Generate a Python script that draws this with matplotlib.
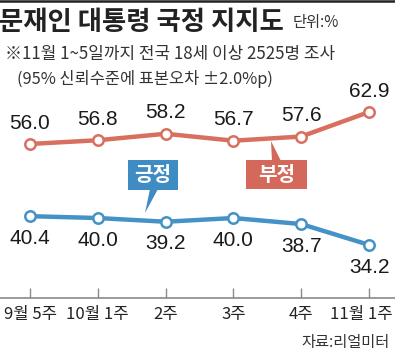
import matplotlib
matplotlib.use("Agg")
import matplotlib.pyplot as plt
import matplotlib.transforms as mtransforms
from matplotlib.patches import Rectangle, Polygon
from matplotlib.lines import Line2D

weeks = ["9월 5주", "10월 1주", "2주", "3주", "4주", "11월 1주"]
negative = [56.0, 56.8, 58.2, 56.7, 57.6, 62.9]
positive = [40.4, 40.0, 39.2, 40.0, 38.7, 34.2]

RED = "#d96f5e"
BLUE = "#4592c6"
RED_BOX = "#d4685a"
BLUE_BOX = "#3f8bc3"
KR = ["Noto Sans CJK KR", "DejaVu Sans"]
NUM = ["Liberation Sans Narrow", "Liberation Sans", "DejaVu Sans"]

W, H = 395, 354


def px(x, y):
    return x / W, 1 - y / H


fig = plt.figure(figsize=(W / 100, H / 100), dpi=100)
fig.patch.set_facecolor("white")

# top rule
fig.add_artist(Line2D([0, 1], [1 - 1 / H, 1 - 1 / H], color="#222222", lw=1.8))

fig.text(*px(-1, 22), "문재인 대통령 국정 지지도", family=KR, fontsize=19,
         fontweight="bold", color="#222222", va="center", ha="left")
fig.text(*px(293, 23), "단위:%", family=KR, fontsize=11, color="#333333",
         va="center", ha="left")
fig.text(*px(5, 54), "※11월 1~5일까지 전국 18세 이상 2525명 조사", family=KR,
         fontsize=12.2, color="#333333", va="center", ha="left")
fig.text(*px(17, 79), "(95% 신뢰수준에 표본오차 ±2.0%p)", family=KR,
         fontsize=11.8, color="#333333", va="center", ha="left")
fig.text(*px(390, 343), "자료:리얼미터", family=KR, fontsize=11,
         color="#333333", va="center", ha="right")

ax = fig.add_axes([0, 1 - 298 / H, 1, 198 / H])
ax.set_xlim(-0.4425, 5.383)
ax.set_ylim(22.73, 65.49)
x = list(range(len(weeks)))

ax.plot(x, negative, color=RED, lw=3.2, marker="o", ms=7.5,
        mfc="white", mec=RED, mew=1.8, zorder=3)
ax.plot(x, positive, color=BLUE, lw=3.2, marker="o", ms=7.5,
        mfc="white", mec=BLUE, mew=1.8, zorder=3)

for i, v in enumerate(negative):
    ax.annotate(f"{v:.1f}", (i, v), xytext=(0, 15), textcoords="offset points",
                ha="center", va="center", family=NUM, fontsize=15, color="#1a1a1a")
for i, v in enumerate(positive):
    ax.annotate(f"{v:.1f}", (i, v), xytext=(0, -16), textcoords="offset points",
                ha="center", va="center", family=NUM, fontsize=15, color="#1a1a1a")

for s in ["top", "left", "right"]:
    ax.spines[s].set_visible(False)
ax.spines["bottom"].set_color("#8a8a8a")
ax.spines["bottom"].set_linewidth(1.2)
ax.set_yticks([])
ax.set_xticks(x)
ax.set_xticklabels(weeks, family=KR, fontsize=12, color="#222222")
ax.tick_params(axis="x", direction="in", length=7, width=1, color="#8a8a8a", pad=6)

# last label sits a little left so it stays inside the frame
last = ax.get_xticklabels()[-1]
last.set_transform(last.get_transform() +
                   mtransforms.ScaledTranslation(-8 / 100, 0, fig.dpi_scale_trans))

# legend callouts (figure pixel space)
def box(x0, y0, x1, y1, color, label, tri):
    fig.add_artist(Rectangle(px(x0, y1), (x1 - x0) / W, (y1 - y0) / H,
                             facecolor=color, edgecolor="none"))
    fig.add_artist(Polygon([px(a, b) for a, b in tri], closed=True,
                           facecolor=color, edgecolor="none"))
    cx, cy = px((x0 + x1) / 2, (y0 + y1) / 2)
    fig.text(cx, cy, label, family=KR, fontsize=14.5, fontweight="bold",
             color="white", ha="center", va="center")


box(128, 160, 178, 190, BLUE_BOX, "긍정", [(150, 189), (158, 189), (145, 213)])
box(246, 160, 307, 189, RED_BOX, "부정", [(272, 161), (281, 161), (271, 141)])

fig.savefig("out.png", dpi=100)
